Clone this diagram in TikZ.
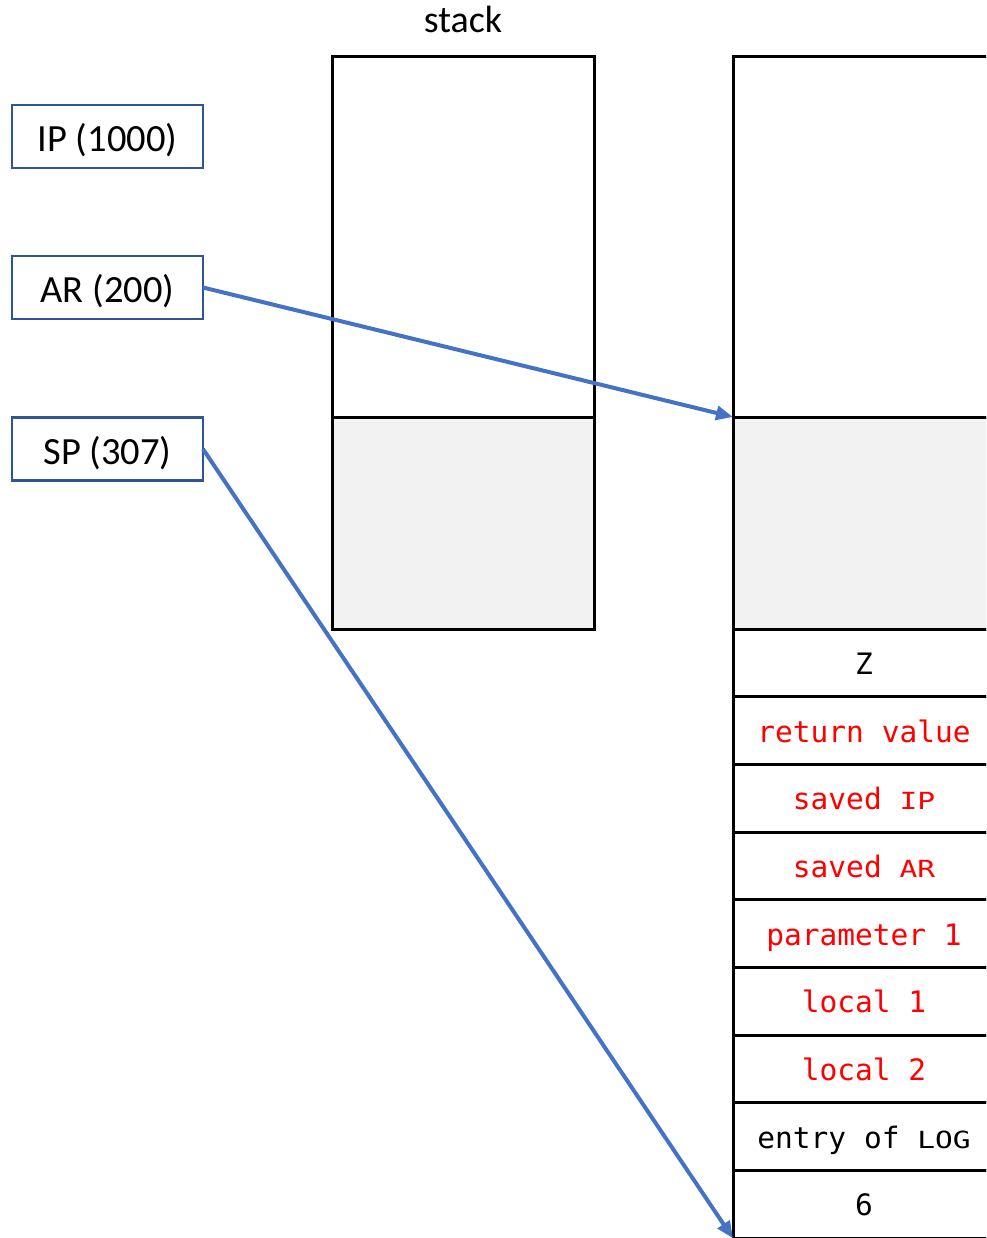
\documentclass[tikz,border=0pt]{standalone}
\usepackage{fontspec}
\setmainfont{Carlito}
\newfontfamily\monof{DejaVu Sans Mono}
\usetikzlibrary{arrows.meta}
\definecolor{regblue}{HTML}{2F5597}
\definecolor{arrblue}{HTML}{4472C4}
\definecolor{cellgray}{HTML}{F2F2F2}
\newcommand\mysmcap[1]{\scalebox{1}[0.8]{#1}}
\begin{document}
\begin{tikzpicture}[x=1pt,y=-1pt,
  reg/.style={draw=regblue, line width=2.5pt, minimum width=191pt, minimum height=63pt,
    inner sep=0pt, outer sep=0pt, text height=30pt, text depth=0pt, font=\fontsize{38.5}{46}\selectfont},
  cell/.style={draw=black, line width=3pt, inner sep=0pt, outer sep=0pt, minimum width=262pt},
  row/.style={cell, minimum height=67.7pt, text height=25pt, text depth=2pt,
    font=\monof\fontsize{29.5}{34}\selectfont},
  hl/.style={text=red},
  ptr/.style={arrblue, line width=4pt, -{Triangle[length=17pt,width=14pt]}}]
\useasboundingbox (0,0) rectangle (986,1238);
\clip (0,0) rectangle (986,1238);
% registers
\node[reg] (ip) at (107.5,136.5) {IP (1000)};
\node[reg] (ar) at (107.5,287.5) {AR (200)};
\node[reg] (sp) at (107.5,449) {SP (307)};
% label
\node[anchor=base, inner sep=0pt, font=\fontsize{38}{46}\selectfont] (lbl) at (463,33) {stack};
% left stack
\node[cell, minimum height=360pt] (ltop) at (463,237) {};
\node[cell, minimum height=212pt, fill=cellgray] (lgray) at (463,523) {};
% right stack
\node[cell, minimum height=360pt] (rtop) at (864,237) {};
\node[cell, minimum height=212pt, fill=cellgray] (rgray) at (864,523) {};
\node[row, anchor=north] (r1) at (rgray.south) {Z};
\node[row, anchor=north, hl] (r2) at (r1.south) {return value};
\node[row, anchor=north, hl] (r3) at (r2.south) {saved \mysmcap{IP}};
\node[row, anchor=north, hl] (r4) at (r3.south) {saved \mysmcap{AR}};
\node[row, anchor=north, hl] (r5) at (r4.south) {parameter 1};
\node[row, anchor=north, hl] (r6) at (r5.south) {local 1};
\node[row, anchor=north, hl] (r7) at (r6.south) {local 2};
\node[row, anchor=north] (r8) at (r7.south) {entry of \mysmcap{LOG}};
\node[row, anchor=north] (r9) at (r8.south) {6};
% pointers
\draw[ptr] (ar.east) -- (rgray.north west);
\draw[ptr] (sp.east) -- (r9.south west);
\end{tikzpicture}
\end{document}
